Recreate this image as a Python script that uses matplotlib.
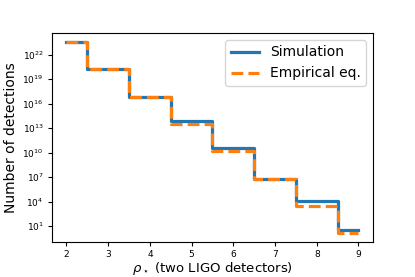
import matplotlib
matplotlib.use("Agg")
import matplotlib.pyplot as plt
import numpy as np

# network SNR bins (two LIGO detectors)
rho = [2, 3, 4, 5, 6, 7, 8, 9]
# log10 of number of detections
log_sim = [23.5, 20.24, 16.8, 13.9, 10.6, 6.8, 4.04, 0.56]
log_emp = [23.5, 20.24, 16.8, 13.5, 10.2, 6.75, 3.46, 0.19]

n_sim = 10.0 ** np.array(log_sim)
n_emp = 10.0 ** np.array(log_emp)

fig = plt.figure(figsize=(4.15, 2.77), dpi=100)
ax = fig.add_axes([0.125, 0.126, 0.774, 0.755])

ax.step(rho, n_sim, where="mid", color="#1f77b4", lw=2.3, label="Simulation")
ax.step(rho, n_emp, where="mid", color="#ff7f0e", lw=2.3, ls="--", label="Empirical eq.")

ax.set_yscale("log")
ax.set_yticks([1e1, 1e4, 1e7, 1e10, 1e13, 1e16, 1e19, 1e22])
ax.minorticks_off()
ax.tick_params(labelsize=6.5, length=3, pad=3)
ax.set_xlabel(r"$\rho_\star$ (two LIGO detectors)", fontsize=9.5, labelpad=0.5)
ax.set_ylabel("Number of detections", fontsize=10, labelpad=3)
ax.legend(loc="upper right", fontsize=10)

fig.savefig("out.png", dpi=100)
